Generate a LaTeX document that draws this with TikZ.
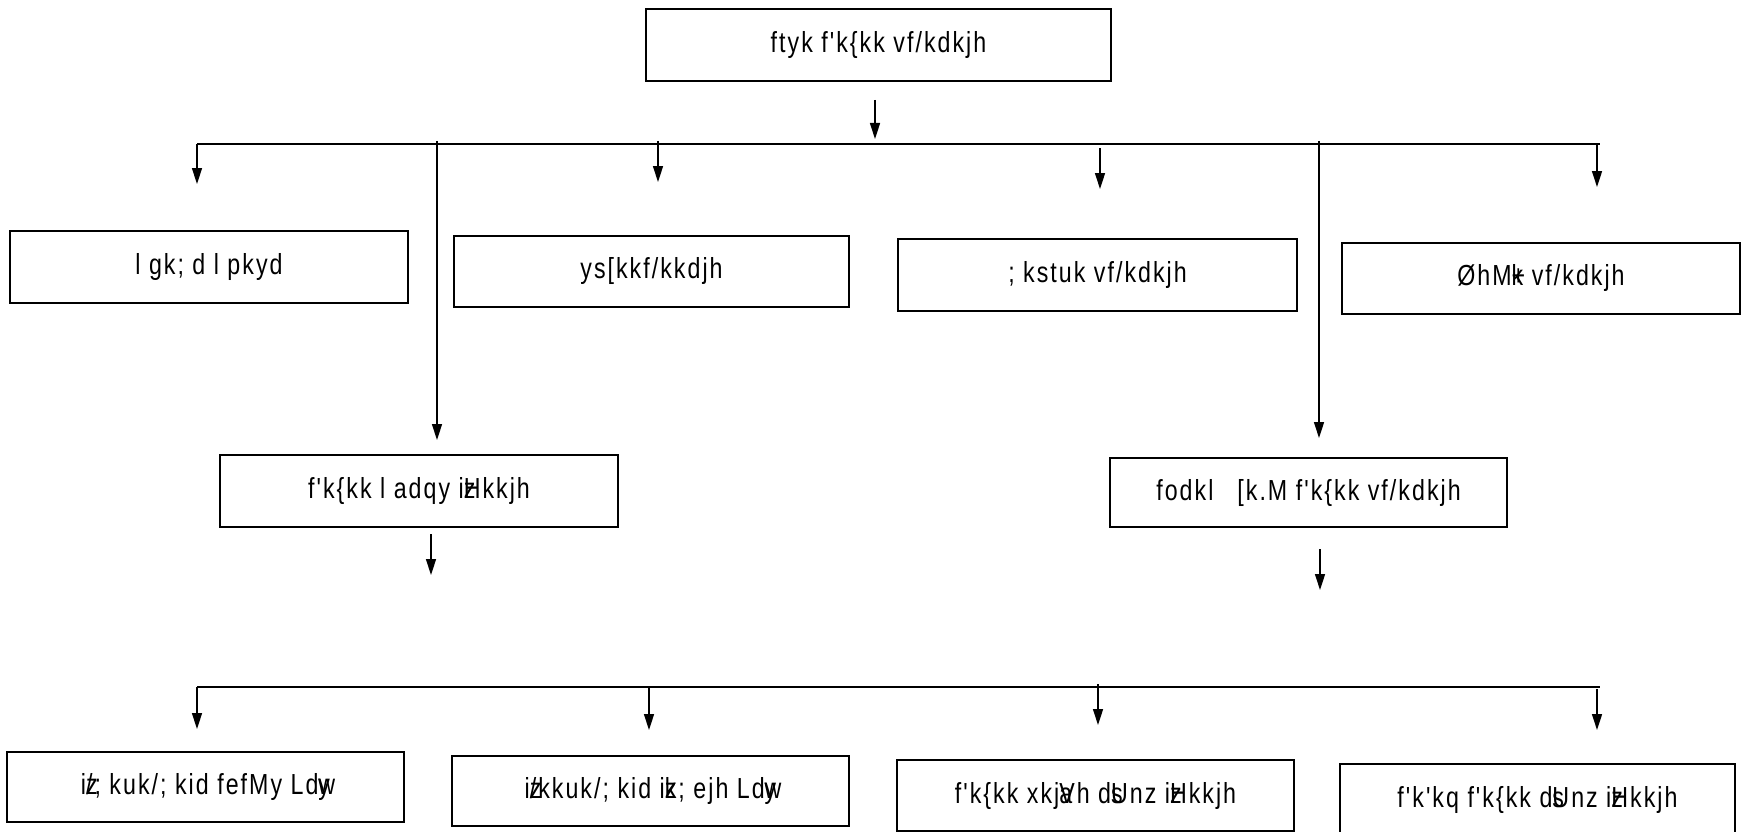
\documentclass[tikz,border=0pt]{standalone}
\usepackage{fontspec}
\usetikzlibrary{arrows.meta}
\newfontfamily\kd[FakeStretch=0.8,LetterSpace=7]{Liberation Sans}
\newcommand\ov[1]{\rlap{#1}}
\tikzset{
  x=1pt, y=-1pt,
  box/.style={draw, line width=1.8pt, rectangle, inner sep=0pt, font=\kd\fontsize{29}{31}\selectfont},
  arr/.style={line width=1.5pt, -{Triangle[length=16pt,width=10pt]}},
  bar/.style={line width=2pt},
  link/.style={line width=1.5pt}
}
\begin{document}
\begin{tikzpicture}
\useasboundingbox (0,0) rectangle (1742,832);
% boxes
\node[box, minimum width=465pt, minimum height=72pt] (top) at (878.5,45) {ftyk f'k\{kk vf/kdkjh};
\node[box, minimum width=398pt, minimum height=72pt] (b1) at (209,267) {l gk; d l pkyd};
\node[box, minimum width=395pt, minimum height=71pt] (b2) at (651.5,271.5) {ys[kkf/kkdjh};
\node[box, minimum width=399pt, minimum height=72pt] (b3) at (1097.5,275) {; kstuk vf/kdkjh};
\node[box, minimum width=398pt, minimum height=71pt] (b4) at (1541,278.5) {ØhM\ov{+}k vf/kdkjh};
\node[box, minimum width=398pt, minimum height=72pt] (b5) at (419,491) {f'k\{kk l adqy i\ov{z}Hkkjh};
\node[box, minimum width=397pt, minimum height=69pt] (b6) at (1308.5,492.5) {fodkl\hspace{24pt}[k.M f'k\{kk vf/kdkjh};
\node[box, minimum width=397pt, minimum height=70pt] (b7) at (205.5,787) {i\ov{z}/; kuk/; kid fefMy Ld\ov{w}y};
\node[box, minimum width=397pt, minimum height=70pt] (b8) at (650.5,791) {i\ov{z}/kkuk/; kid i\ov{z}k; ejh Ld\ov{w}y};
\node[box, minimum width=397pt, minimum height=71pt] (b9) at (1095.5,795.5) {f'k\{kk xkj\ov{a}Vh d\ov{s}Unz i\ov{z}Hkkjh};
\node[box, minimum width=395pt, minimum height=72pt] (b10) at (1537.5,800) {f'k'kq f'k\{kk d\ov{s}Unz i\ov{z}Hkkjh};
% coordinates
\coordinate (c0s) at (875,100); \coordinate (c0e) at (875,139);
\coordinate (h1l) at (197,144); \coordinate (h1r) at (1600,144);
\coordinate (a1s) at (197,144); \coordinate (a1e) at (197,184);
\coordinate (l1s) at (437,141); \coordinate (l1e) at (437,440);
\coordinate (a2s) at (658,141); \coordinate (a2e) at (658,182);
\coordinate (a3s) at (1100,148); \coordinate (a3e) at (1100,189);
\coordinate (l2s) at (1319,141); \coordinate (l2e) at (1319,438);
\coordinate (a4s) at (1597,144); \coordinate (a4e) at (1597,187);
\coordinate (d1s) at (431,534); \coordinate (d1e) at (431,575);
\coordinate (d2s) at (1320,549); \coordinate (d2e) at (1320,590);
\coordinate (h2l) at (197,687); \coordinate (h2r) at (1600,687);
\coordinate (e1s) at (197,687); \coordinate (e1e) at (197,729);
\coordinate (e2s) at (649,687); \coordinate (e2e) at (649,730);
\coordinate (e3s) at (1098,684); \coordinate (e3e) at (1098,725);
\coordinate (e4s) at (1597,689); \coordinate (e4e) at (1597,730);
% connectors
\draw[arr] (c0s) -- (c0e);
\draw[bar] (h1l) -- (h1r);
\draw[arr] (a1s) -- (a1e);
\draw[arr] (l1s) -- (l1e);
\draw[arr] (a2s) -- (a2e);
\draw[arr] (a3s) -- (a3e);
\draw[arr] (l2s) -- (l2e);
\draw[arr] (a4s) -- (a4e);
\draw[arr] (d1s) -- (d1e);
\draw[arr] (d2s) -- (d2e);
\draw[bar] (h2l) -- (h2r);
\draw[arr] (e1s) -- (e1e);
\draw[arr] (e2s) -- (e2e);
\draw[arr] (e3s) -- (e3e);
\draw[arr] (e4s) -- (e4e);
\end{tikzpicture}
\end{document}
